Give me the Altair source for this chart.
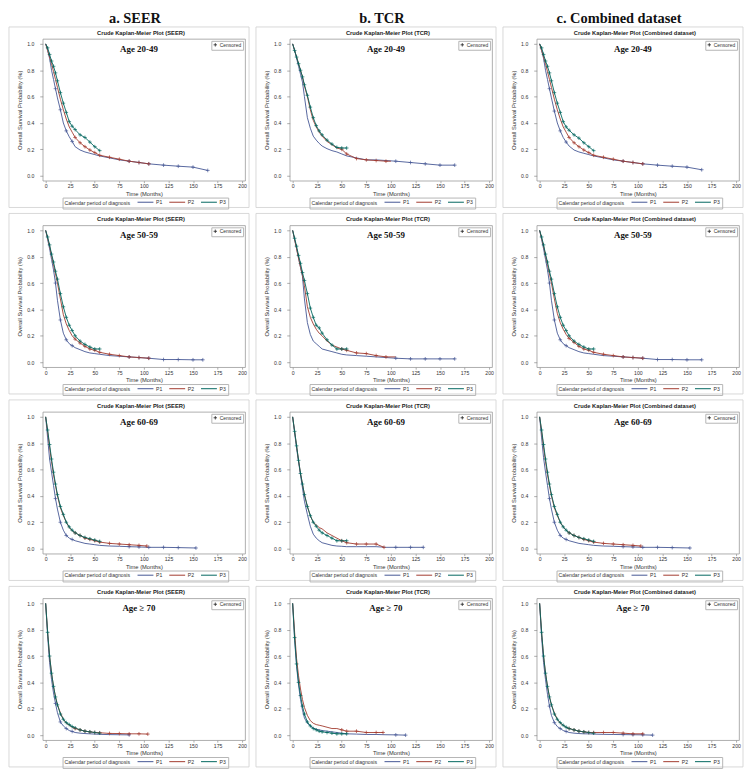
import altair as alt
import pandas as pd

# ---------------- data ----------------
T = [0, 2, 4, 6, 8, 10, 12, 15, 18, 21, 24, 27, 30, 35, 40, 45, 50, 55,
     65, 75, 85, 95, 105, 120, 135, 150, 165]
PERIODS = ["P1", "P2", "P3"]
COLORS = ["#445694", "#A23A2E", "#01665E"]
DATASETS = ["SEER", "TCR", "Combined dataset"]
HEADERS = ["a. SEER", "b. TCR", "c. Combined dataset"]
AGES = ["Age 20-49", "Age 50-59", "Age 60-69", "Age \u2265 70"]
X_TICKS = [0, 25, 50, 75, 100, 125, 150, 175, 200]
Y_TICKS = [0.0, 0.2, 0.4, 0.6, 0.8, 1.0]

# survival values on grid T, one list per period [P1, P2, P3]
SEER_20_49 = [
    [1.0, 0.95, 0.89, 0.80, 0.73, 0.66, 0.59, 0.50, 0.40, 0.34, 0.295, 0.26, 0.22, 0.195, 0.18, 0.17, 0.16, 0.15, 0.135, 0.12, 0.11, 0.10, 0.09, 0.08, 0.072, 0.065, 0.04],
    [1.0, 0.95, 0.90, 0.85, 0.79, 0.73, 0.67, 0.58, 0.50, 0.43, 0.37, 0.33, 0.29, 0.25, 0.22, 0.195, 0.175, 0.155, 0.14, 0.125, 0.11, 0.10, 0.09],
    [1.0, 0.97, 0.92, 0.87, 0.83, 0.78, 0.72, 0.63, 0.55, 0.48, 0.41, 0.375, 0.35, 0.31, 0.29, 0.255, 0.22, 0.19],
]
TCR_20_49 = [
    [1.0, 0.95, 0.89, 0.83, 0.77, 0.71, 0.60, 0.44, 0.36, 0.30, 0.27, 0.245, 0.225, 0.205, 0.19, 0.18, 0.165, 0.15, 0.135, 0.12, 0.12, 0.115, 0.11, 0.10, 0.09, 0.08, 0.08],
    [1.0, 0.95, 0.90, 0.85, 0.80, 0.75, 0.68, 0.60, 0.50, 0.42, 0.37, 0.33, 0.30, 0.26, 0.235, 0.21, 0.20, 0.165, 0.13, 0.12, 0.115, 0.11, 0.11],
    [1.0, 0.95, 0.90, 0.85, 0.80, 0.75, 0.69, 0.61, 0.52, 0.44, 0.38, 0.34, 0.31, 0.27, 0.24, 0.215, 0.21, 0.21],
]
COMB_20_49 = [
    [1.0, 0.95, 0.89, 0.80, 0.73, 0.66, 0.59, 0.49, 0.40, 0.34, 0.29, 0.255, 0.225, 0.195, 0.18, 0.17, 0.16, 0.15, 0.135, 0.12, 0.11, 0.10, 0.09, 0.08, 0.072, 0.065, 0.045],
    [1.0, 0.95, 0.90, 0.85, 0.79, 0.73, 0.67, 0.58, 0.50, 0.43, 0.37, 0.33, 0.29, 0.25, 0.22, 0.195, 0.175, 0.155, 0.14, 0.125, 0.11, 0.10, 0.09],
    [1.0, 0.97, 0.92, 0.87, 0.83, 0.78, 0.72, 0.63, 0.55, 0.48, 0.41, 0.37, 0.345, 0.31, 0.285, 0.25, 0.22, 0.19],
]
SEER_50_59 = [
    [1.0, 0.93, 0.86, 0.78, 0.70, 0.60, 0.47, 0.32, 0.22, 0.17, 0.14, 0.125, 0.11, 0.095, 0.08, 0.07, 0.065, 0.06, 0.05, 0.045, 0.04, 0.035, 0.03, 0.02, 0.02, 0.018, 0.018],
    [1.0, 0.94, 0.88, 0.81, 0.74, 0.67, 0.60, 0.48, 0.36, 0.29, 0.24, 0.20, 0.175, 0.145, 0.12, 0.10, 0.09, 0.075, 0.06, 0.05, 0.04, 0.035, 0.03],
    [1.0, 0.95, 0.89, 0.82, 0.76, 0.69, 0.63, 0.52, 0.42, 0.34, 0.28, 0.24, 0.20, 0.16, 0.135, 0.115, 0.10, 0.10],
]
TCR_50_59 = [
    [1.0, 0.93, 0.86, 0.79, 0.72, 0.65, 0.48, 0.30, 0.21, 0.16, 0.14, 0.12, 0.10, 0.09, 0.08, 0.07, 0.06, 0.055, 0.05, 0.045, 0.04, 0.035, 0.03, 0.025, 0.025, 0.025, 0.025],
    [1.0, 0.93, 0.86, 0.79, 0.72, 0.66, 0.58, 0.42, 0.34, 0.29, 0.25, 0.22, 0.20, 0.16, 0.13, 0.115, 0.10, 0.09, 0.07, 0.065, 0.05, 0.04, 0.04],
    [1.0, 0.94, 0.88, 0.81, 0.75, 0.68, 0.62, 0.52, 0.41, 0.34, 0.28, 0.26, 0.22, 0.17, 0.13, 0.10, 0.10, 0.10],
]
COMB_50_59 = [
    [1.0, 0.93, 0.86, 0.78, 0.70, 0.60, 0.47, 0.32, 0.22, 0.17, 0.14, 0.125, 0.11, 0.095, 0.08, 0.07, 0.065, 0.06, 0.05, 0.045, 0.04, 0.035, 0.03, 0.02, 0.02, 0.018, 0.018],
    [1.0, 0.94, 0.88, 0.81, 0.74, 0.67, 0.60, 0.48, 0.37, 0.30, 0.25, 0.21, 0.18, 0.15, 0.12, 0.10, 0.09, 0.075, 0.06, 0.05, 0.04, 0.035, 0.03],
    [1.0, 0.95, 0.89, 0.82, 0.76, 0.69, 0.63, 0.52, 0.42, 0.34, 0.28, 0.24, 0.20, 0.16, 0.135, 0.115, 0.10, 0.10],
]
SEER_60_69 = [
    [1.0, 0.84, 0.68, 0.58, 0.48, 0.38, 0.30, 0.20, 0.14, 0.10, 0.08, 0.07, 0.06, 0.05, 0.04, 0.035, 0.03, 0.025, 0.02, 0.018, 0.015, 0.013, 0.01, 0.01, 0.008, 0.005],
    [1.0, 0.89, 0.77, 0.66, 0.56, 0.48, 0.40, 0.31, 0.25, 0.20, 0.16, 0.135, 0.12, 0.10, 0.08, 0.07, 0.06, 0.05, 0.04, 0.035, 0.03, 0.025, 0.02],
    [1.0, 0.90, 0.79, 0.68, 0.58, 0.49, 0.41, 0.32, 0.26, 0.20, 0.165, 0.14, 0.12, 0.10, 0.085, 0.075, 0.065, 0.055],
]
TCR_60_69 = [
    [1.0, 0.88, 0.76, 0.66, 0.56, 0.46, 0.36, 0.26, 0.17, 0.11, 0.08, 0.06, 0.045, 0.035, 0.025, 0.02, 0.018, 0.015, 0.015, 0.015, 0.015, 0.01, 0.01, 0.01, 0.01],
    [1.0, 0.89, 0.78, 0.67, 0.57, 0.49, 0.41, 0.32, 0.25, 0.20, 0.18, 0.16, 0.15, 0.12, 0.10, 0.08, 0.06, 0.045, 0.035, 0.035, 0.035, 0.01],
    [1.0, 0.89, 0.78, 0.67, 0.57, 0.49, 0.41, 0.32, 0.25, 0.20, 0.17, 0.14, 0.12, 0.10, 0.08, 0.06, 0.06, 0.06],
]
COMB_60_69 = [
    [1.0, 0.84, 0.69, 0.58, 0.48, 0.38, 0.30, 0.20, 0.14, 0.10, 0.08, 0.07, 0.06, 0.05, 0.04, 0.035, 0.03, 0.025, 0.02, 0.018, 0.015, 0.013, 0.01, 0.01, 0.008, 0.005],
    [1.0, 0.89, 0.77, 0.66, 0.56, 0.48, 0.40, 0.31, 0.25, 0.20, 0.165, 0.14, 0.12, 0.10, 0.085, 0.07, 0.06, 0.05, 0.04, 0.035, 0.03, 0.025, 0.02],
    [1.0, 0.90, 0.79, 0.68, 0.58, 0.49, 0.41, 0.32, 0.26, 0.20, 0.165, 0.14, 0.12, 0.10, 0.085, 0.075, 0.065, 0.055],
]
SEER_70 = [
    [1.0, 0.75, 0.55, 0.42, 0.32, 0.24, 0.17, 0.10, 0.07, 0.05, 0.035, 0.028, 0.02, 0.015, 0.012, 0.01, 0.008, 0.006, 0.004, 0.003, 0.002],
    [1.0, 0.78, 0.60, 0.47, 0.37, 0.29, 0.23, 0.17, 0.12, 0.09, 0.075, 0.06, 0.05, 0.04, 0.03, 0.025, 0.02, 0.018, 0.013, 0.012, 0.01, 0.01, 0.008],
    [1.0, 0.78, 0.60, 0.47, 0.37, 0.29, 0.23, 0.16, 0.12, 0.095, 0.08, 0.065, 0.055, 0.04, 0.03, 0.025, 0.02, 0.015],
]
TCR_70 = [
    [1.0, 0.72, 0.52, 0.38, 0.27, 0.19, 0.13, 0.09, 0.07, 0.055, 0.045, 0.04, 0.035, 0.03, 0.025, 0.02, 0.015, 0.01, 0.008, 0.005, 0.005, 0.003, 0.002, 0.0],
    [1.0, 0.78, 0.58, 0.45, 0.35, 0.27, 0.21, 0.15, 0.11, 0.09, 0.08, 0.075, 0.07, 0.06, 0.05, 0.05, 0.04, 0.03, 0.03, 0.02, 0.02, 0.02],
    [1.0, 0.74, 0.54, 0.40, 0.30, 0.22, 0.16, 0.10, 0.07, 0.05, 0.04, 0.03, 0.025, 0.02, 0.015, 0.01, 0.01, 0.01],
]
COMB_70 = [
    [1.0, 0.74, 0.55, 0.42, 0.31, 0.22, 0.15, 0.095, 0.065, 0.05, 0.035, 0.028, 0.02, 0.015, 0.012, 0.01, 0.01, 0.008, 0.006, 0.005, 0.004, 0.003, 0.002, 0.0],
    [1.0, 0.78, 0.60, 0.47, 0.37, 0.29, 0.23, 0.17, 0.12, 0.09, 0.075, 0.06, 0.05, 0.04, 0.03, 0.025, 0.02, 0.02, 0.02, 0.02, 0.015, 0.01, 0.01],
    [1.0, 0.78, 0.60, 0.47, 0.37, 0.29, 0.23, 0.16, 0.12, 0.095, 0.075, 0.06, 0.05, 0.04, 0.03, 0.025, 0.02, 0.015],
]

# last follow-up time of each curve [P1, P2, P3], per age row
END_SEER = [[165, 105, 55], [160, 105, 55], [153, 103, 55], [85, 104, 55]]
END_TCR = [[165, 100, 55], [165, 105, 55], [133, 93, 55], [115, 92, 55]]
END_COMB = [[165, 105, 55], [165, 105, 55], [153, 103, 55], [115, 105, 55]]

# grid times that carry a censoring mark [P1, P2, P3]
CENS_SEER = [[10, 15, 21, 27, 85, 95, 105, 120, 135, 150, 165],
             [30, 35, 40, 45, 50, 55, 65, 75, 85, 95, 105],
             [2, 4, 6, 8, 10, 12, 15, 18, 21, 24, 27, 30, 35, 40, 45, 50, 55]]
CENS_TCR = [[105, 120, 135, 150, 165],
            [50, 55, 65, 75, 85, 95],
            [2, 4, 6, 8, 10, 12, 15, 18, 21, 24, 27, 30, 35, 40, 45, 50, 55]]
CENS_COMB = CENS_SEER

CURVES = [[SEER_20_49, TCR_20_49, COMB_20_49],
          [SEER_50_59, TCR_50_59, COMB_50_59],
          [SEER_60_69, TCR_60_69, COMB_60_69],
          [SEER_70, TCR_70, COMB_70]]
ENDS = [END_SEER, END_TCR, END_COMB]
CENS = [CENS_SEER, CENS_TCR, CENS_COMB]

# ---------------- layout ----------------
W, H = 204, 143
HEADER_X = [93, 93, 83]
PLUS = "M-1,0L1,0M0,-1L0,1"
LEGLINE = "M-4,0L4,0"
SANS = "Liberation Sans"
SERIF = "Liberation Serif"


def make_df(curves, ends, cens):
    rows = []
    for p, vals, end, cl in zip(PERIODS, curves, ends, cens):
        n = len(vals)
        for i, (g, s) in enumerate(zip(T[:n], vals)):
            t = end if i == n - 1 else g
            rows.append({"t": t, "s": s, "period": p,
                         "c": 1 if g in cl else 0, "lab": "Censored"})
    return pd.DataFrame(rows)


def panel(df, ds, age, header=None, hx=90):
    one = pd.DataFrame({"k": [0]})
    xenc = alt.X("t:Q", scale=alt.Scale(domain=[-3, 203], nice=False, zero=False),
                 axis=alt.Axis(values=X_TICKS, title="Time (Months)", tickSize=2,
                               labelPadding=1, titlePadding=1.5, labelFlush=False))
    yenc = alt.Y("s:Q", scale=alt.Scale(domain=[-0.038, 1.038], nice=False, zero=False),
                 axis=alt.Axis(values=Y_TICKS, format=".1f",
                               title="Overall Survival Probability (%)", tickSize=3,
                               labelPadding=6, titlePadding=4, labelFlush=False))
    cscale = alt.Scale(domain=PERIODS, range=COLORS)
    leg = alt.Legend(title="Calendar period of diagnosis", orient="none",
                     legendX=20, legendY=H + 17, direction="horizontal",
                     titleOrient="left", symbolType=LEGLINE, symbolSize=16,
                     symbolStrokeWidth=1, symbolFillColor="transparent",
                     columnPadding=4, labelOffset=8,
                     padding=2, strokeColor="#b5b5b5", titlePadding=12,
                     titleFontWeight="normal", titleFontSize=5.2, labelFontSize=5.2,
                     titleFont=SANS, labelFont=SANS, titleColor="#333",
                     labelColor="#333")
    cleg = alt.Legend(title=None, orient="top-right", offset=2, padding=1.5,
                      strokeColor="#b5b5b5", fillColor="white", labelFontSize=5,
                      labelFont=SANS, labelColor="#333", symbolSize=12,
                      symbolStrokeWidth=0.8, symbolStrokeColor="#222",
                      symbolFillColor="transparent", labelOffset=2)

    frame = alt.Chart(one).mark_rect(fill="transparent", stroke="#cfcfcf",
                                     strokeWidth=0.8).encode(
        x=alt.value(-34), x2=alt.value(W + 4), y=alt.value(-12), y2=alt.value(H + 27))
    lines = alt.Chart(df).mark_line(strokeWidth=0.9).encode(
        x=xenc, y=yenc, color=alt.Color("period:N", scale=cscale, legend=leg))
    pts = alt.Chart(df).transform_filter(alt.datum.c == 1).mark_point(
        filled=False, strokeWidth=0.7, size=14, opacity=1).encode(
        x=xenc, y=yenc, color=alt.Color("period:N", scale=cscale, legend=leg),
        shape=alt.Shape("lab:N", scale=alt.Scale(domain=["Censored"], range=[PLUS]),
                        legend=cleg))
    title = alt.Chart(one).mark_text(
        text=f"Crude Kaplan-Meier Plot ({ds})", font=SANS, fontWeight="bold",
        fontSize=5.8, color="#222").encode(x=alt.value(W / 2 - 3), y=alt.value(-6))
    agetxt = alt.Chart(one).mark_text(
        text=age, font=SERIF, fontWeight="bold", fontSize=9, color="#111").encode(
        x=alt.value(97), y=alt.value(10))
    layers = [frame, lines, pts, title, agetxt]
    if header:
        layers.append(alt.Chart(one).mark_text(
            text=header, font=SERIF, fontWeight="bold", fontSize=14.5,
            color="#111").encode(x=alt.value(hx), y=alt.value(-19.5)))
    return alt.layer(*layers).properties(width=W, height=H)


rows = []
for r in range(4):
    cells = []
    for c in range(3):
        df = make_df(CURVES[r][c], ENDS[c][r], CENS[c])
        cells.append(panel(df, DATASETS[c], AGES[r],
                           HEADERS[c] if r == 0 else None, HEADER_X[c]))
    rows.append(alt.hconcat(*cells, spacing=5)
                .resolve_scale(color="independent", shape="independent")
                .resolve_legend(color="independent", shape="independent"))

chart = (alt.vconcat(*rows, spacing=3, padding=0, background="white")
         .resolve_scale(color="independent", shape="independent")
         .resolve_legend(color="independent", shape="independent")
         .configure_view(stroke="#9a9a9a", strokeWidth=0.8)
         .configure_axis(labelFont=SANS, titleFont=SANS, labelFontSize=5.2,
                         titleFontSize=5.8, labelColor="#333", titleColor="#333",
                         titleFontWeight="normal", grid=False, domain=False,
                         tickColor="#888", tickWidth=0.7))

chart.save("out.html", embed_options={"renderer": "svg", "actions": False})
